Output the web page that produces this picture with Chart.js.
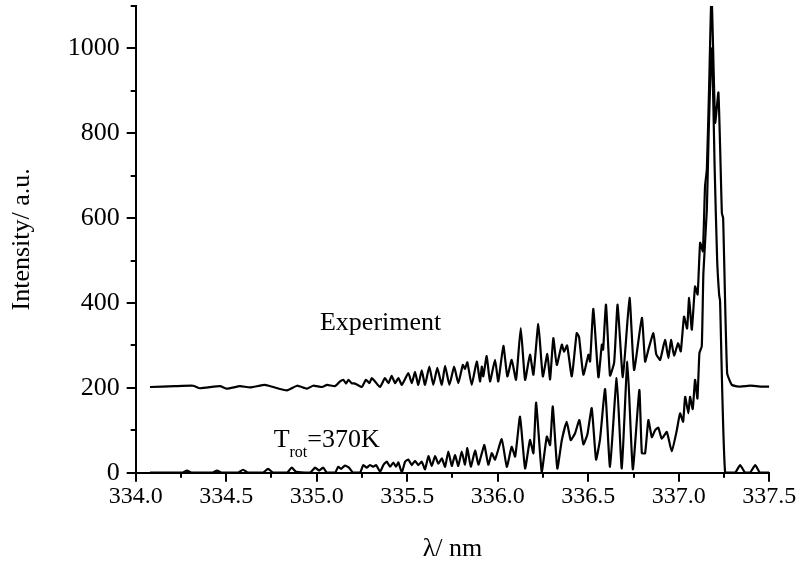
<!DOCTYPE html>
<html>
<head>
<meta charset="utf-8">
<script src="https://cdn.jsdelivr.net/npm/chart.js@4"></script>
<style>
  html, body { margin: 0; padding: 0; background: #fff; }
  canvas { display: block; }
</style>
</head>
<body>
<canvas id="chart" width="801" height="562"></canvas>
<script>
// wavelength (nm) / intensity (a.u.)
const expX = [334.079, 334.217, 334.317, 334.355, 334.466, 334.504, 334.576, 334.631, 334.714, 334.759,
  334.836, 334.891, 334.946, 334.980, 335.029, 335.057, 335.101, 335.129, 335.147, 335.162,
  335.175, 335.193, 335.212, 335.249, 335.272, 335.291, 335.304, 335.322, 335.350, 335.377,
  335.396, 335.414, 335.433, 335.451, 335.470, 335.506, 335.525, 335.543, 335.561, 335.580,
  335.598, 335.622, 335.644, 335.666, 335.691, 335.709, 335.733, 335.759, 335.782, 335.807,
  335.819, 335.832, 335.856, 335.884, 335.902, 335.912, 335.920, 335.939, 335.957, 335.985,
  336.003, 336.031, 336.053, 336.077, 336.101, 336.127, 336.151, 336.178, 336.197, 336.224,
  336.249, 336.274, 336.289, 336.307, 336.326, 336.354, 336.366, 336.383, 336.409, 336.436,
  336.449, 336.473, 336.501, 336.510, 336.528, 336.556, 336.575, 336.582, 336.598, 336.620,
  336.643, 336.662, 336.691, 336.728, 336.753, 336.796, 336.814, 336.832, 336.860, 336.875,
  336.897, 336.924, 336.943, 336.957, 336.974, 336.996, 337.011, 337.029, 337.046, 337.057,
  337.072, 337.090, 337.104, 337.118, 337.133, 337.145, 337.155, 337.167, 337.181, 337.201,
  337.219, 337.238, 337.245, 337.267, 337.293, 337.339, 337.394, 337.449, 337.500];
const expY = [202, 204, 205, 199, 204, 198, 204, 201, 207, 202,
  194, 205, 198, 205, 202, 207, 204, 215, 219, 210,
  219, 211, 210, 202, 219, 211, 223, 215, 202, 223,
  211, 228, 211, 223, 207, 235, 211, 237, 207, 241,
  207, 250, 207, 247, 207, 252, 207, 250, 211, 254,
  245, 260, 207, 262, 215, 250, 227, 275, 215, 266,
  215, 299, 227, 266, 219, 341, 219, 278, 231, 350,
  227, 280, 220, 317, 254, 302, 285, 300, 227, 329,
  320, 231, 278, 262, 386, 225, 302, 290, 396, 229,
  260, 396, 225, 412, 242, 365, 262, 290, 329, 280,
  266, 313, 270, 313, 276, 305, 286, 368, 340, 412,
  337, 439, 420, 542, 522, 675, 715, 900, 1130, 825,
  896, 612, 600, 235, 207, 203, 205, 203, 203];

const simX = [334.079, 334.256, 334.283, 334.311, 334.422, 334.449, 334.477, 334.565, 334.593, 334.620,
  334.703, 334.731, 334.759, 334.836, 334.862, 334.886, 334.963, 334.991, 335.013, 335.035,
  335.057, 335.101, 335.119, 335.134, 335.156, 335.178, 335.201, 335.239, 335.257, 335.276,
  335.294, 335.313, 335.328, 335.350, 335.368, 335.387, 335.405, 335.423, 335.438, 335.451,
  335.470, 335.488, 335.506, 335.525, 335.543, 335.561, 335.580, 335.598, 335.617, 335.635,
  335.654, 335.672, 335.691, 335.709, 335.727, 335.746, 335.764, 335.782, 335.801, 335.819,
  335.832, 335.851, 335.875, 335.893, 335.912, 335.926, 335.948, 335.967, 335.985, 336.022,
  336.050, 336.077, 336.096, 336.123, 336.151, 336.178, 336.197, 336.212, 336.243, 336.271,
  336.289, 336.304, 336.329, 336.354, 336.381, 336.403, 336.427, 336.451, 336.473, 336.495,
  336.519, 336.543, 336.565, 336.593, 336.620, 336.657, 336.685, 336.716, 336.746, 336.782,
  336.796, 336.814, 336.832, 336.851, 336.869, 336.887, 336.906, 336.934, 336.961, 336.989,
  337.007, 337.024, 337.035, 337.053, 337.062, 337.077, 337.090, 337.103, 337.114, 337.127,
  337.136, 337.155, 337.165, 337.176, 337.184, 337.198, 337.212, 337.223, 337.228, 337.256,
  337.311, 337.339, 337.366, 337.394, 337.422, 337.449, 337.500];
const simY = [0, 0, 5, 0, 0, 5, 0, 0, 7, 0,
  0, 9, 0, 0, 12, 2, 0, 12, 5, 12,
  0, 0, 14, 9, 17, 12, 0, 0, 18, 12,
  18, 14, 18, 2, 18, 26, 14, 24, 14, 24,
  0, 26, 31, 18, 28, 18, 26, 8, 39, 16,
  39, 21, 34, 14, 50, 16, 42, 16, 50, 19,
  58, 14, 52, 19, 46, 65, 19, 46, 31, 79,
  14, 61, 38, 132, 10, 77, 46, 165, 2, 85,
  65, 156, 10, 77, 120, 77, 93, 124, 67, 90,
  152, 31, 79, 197, 14, 223, 10, 262, 8, 195,
  46, 46, 124, 84, 100, 106, 80, 96, 50, 100,
  140, 120, 179, 140, 179, 150, 219, 175, 282, 298,
  471, 620, 800, 950, 1000, 720, 500, 419, 405, 0,
  0, 18, 0, 0, 18, 0, 0];

const xTicksMinor = [334.25, 334.75, 335.25, 335.75, 336.25, 336.75, 337.25];
const yTicksMinor = [100, 300, 500, 700, 900, 1100];

// text anchors (left edge, baseline) in data units
const labels = [
  { text: "Experiment", x: 335.018, y: 337 },
  { text: "T", sub: "rot", rest: "=370K", x: 334.762, y: 60 },
];

const pts = (xs, ys) => xs.map((x, i) => ({ x: x, y: ys[i] }));
const SERIF = "'Liberation Serif', 'Times New Roman', serif";

// minor tick marks + in-plot labels, placed through the chart scales
const extras = {
  id: "extras",
  afterDraw(chart) {
    const { ctx, chartArea, scales } = chart;
    ctx.save();
    ctx.strokeStyle = "#000";
    ctx.lineWidth = 2;
    ctx.beginPath();
    xTicksMinor.forEach((v) => {
      const px = Math.round(scales.x.getPixelForValue(v));
      ctx.moveTo(px, chartArea.bottom);
      ctx.lineTo(px, chartArea.bottom + 5);
    });
    yTicksMinor.forEach((v) => {
      const py = Math.round(scales.y.getPixelForValue(v));
      ctx.moveTo(chartArea.left, py);
      ctx.lineTo(chartArea.left - 5, py);
    });
    ctx.stroke();

    ctx.fillStyle = "#000";
    ctx.textBaseline = "alphabetic";
    ctx.textAlign = "left";
    labels.forEach((l) => {
      let px = scales.x.getPixelForValue(l.x);
      const py = scales.y.getPixelForValue(l.y);
      ctx.font = "26px " + SERIF;
      ctx.fillText(l.text, px, py);
      if (l.sub) {
        px += ctx.measureText(l.text).width;
        ctx.font = "16px " + SERIF;
        ctx.fillText(l.sub, px, py + 10);
        px += ctx.measureText(l.sub).width;
        ctx.font = "26px " + SERIF;
        ctx.fillText(l.rest, px, py);
      }
    });
    ctx.restore();
  },
};

const lineStyle = { borderColor: "#000", backgroundColor: "#000", borderWidth: 2.2, pointRadius: 0, tension: 0.15, showLine: true };

new Chart(document.getElementById("chart"), {
  type: "scatter",
  data: {
    datasets: [
      Object.assign({ label: "Experiment", data: pts(expX, expY) }, lineStyle),
      Object.assign({ label: "Simulation", data: pts(simX, simY) }, lineStyle),
    ],
  },
  options: {
    responsive: false,
    animation: false,
    layout: { padding: { left: 0, right: 31.7, top: 6, bottom: 0 } },
    plugins: { legend: { display: false }, tooltip: { enabled: false } },
    scales: {
      x: {
        type: "linear",
        min: 334,
        max: 337.5,
        afterFit: (s) => { s.height = 89.3; s.paddingLeft = 0; s.paddingRight = 0; },
        border: { display: true, color: "#000", width: 2 },
        grid: { drawOnChartArea: false, drawTicks: true, tickLength: 9, color: "#000", lineWidth: 2 },
        ticks: {
          stepSize: 0.5,
          includeBounds: false,
          color: "#000",
          padding: 1,
          maxRotation: 0,
          font: { family: SERIF, size: 24 },
          callback: (v) => v.toFixed(1),
        },
        title: {
          display: true,
          text: "λ/ nm",
          color: "#000",
          font: { family: SERIF, size: 26, lineHeight: 1 },
          padding: { top: 0, bottom: 0 },
        },
      },
      y: {
        type: "linear",
        min: 0,
        max: 1100,
        afterFit: (s) => { s.width = 135.7; s.paddingTop = 0; s.paddingBottom = 0; },
        border: { display: true, color: "#000", width: 2 },
        grid: { drawOnChartArea: false, drawTicks: true, tickLength: 9, color: "#000", lineWidth: 2 },
        ticks: {
          stepSize: 200,
          includeBounds: false,
          color: "#000",
          padding: 7,
          font: { family: SERIF, size: 26 },
          callback: (v) => String(v),
        },
        title: {
          display: true,
          text: "Intensity/ a.u.",
          color: "#000",
          font: { family: SERIF, size: 26, lineHeight: 1 },
          padding: { top: 9, bottom: 0 },
        },
      },
    },
  },
  plugins: [extras],
});
</script>
</body>
</html>
